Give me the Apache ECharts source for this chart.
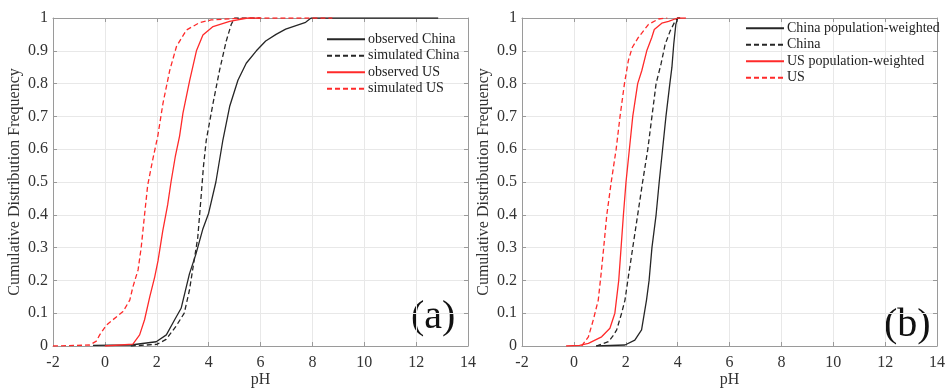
<!DOCTYPE html>
<html>
<head>
<meta charset="utf-8">
<script src="https://cdn.jsdelivr.net/npm/echarts@6/dist/echarts.min.js"></script>
<style>
  html, body { margin: 0; padding: 0; background: #fff; }
  #chart { width: 949px; height: 390px; }
</style>
</head>
<body>
<div id="chart"></div>
<script>
// panel (a): observed vs simulated
const obsChinaX = [-0.46, 1.0, 1.98, 2.37, 2.69, 2.94, 3.26, 3.51, 3.77, 4.0, 4.28, 4.55, 4.81, 5.13, 5.45, 5.84, 6.2, 6.6, 6.97, 7.74, 7.95, 12.85];
const obsChinaY = [0.002, 0.003, 0.013, 0.034, 0.08, 0.115, 0.22, 0.28, 0.355, 0.405, 0.5, 0.628, 0.73, 0.81, 0.862, 0.9, 0.93, 0.95, 0.966, 0.987, 1.0, 1.0];

const simChinaX = [1.0, 2.0, 2.36, 2.74, 3.06, 3.26, 3.38, 3.58, 3.7, 3.8, 3.91, 4.17, 4.42, 4.68, 4.87, 5.0, 6.0];
const simChinaY = [0.0, 0.005, 0.02, 0.06, 0.1, 0.17, 0.23, 0.33, 0.445, 0.547, 0.628, 0.74, 0.84, 0.93, 0.98, 1.0, 1.0];

const obsUSX = [0.0, 1.08, 1.34, 1.53, 1.73, 1.92, 2.05, 2.23, 2.42, 2.55, 2.72, 2.88, 3.01, 3.27, 3.53, 3.78, 4.17, 4.81, 5.5, 6.0];
const obsUSY = [0.0, 0.006, 0.034, 0.08, 0.15, 0.21, 0.26, 0.35, 0.43, 0.5, 0.58, 0.64, 0.71, 0.81, 0.9, 0.948, 0.974, 0.99, 1.0, 1.0];

const simUSX = [-2.0, -0.58, -0.33, -0.2, 0.06, 0.31, 0.7, 0.96, 1.08, 1.28, 1.4, 1.53, 1.65, 1.85, 2.04, 2.24, 2.5, 2.76, 3.14, 3.65, 4.1, 4.9, 5.5, 8.77];
const simUSY = [0.0, 0.003, 0.015, 0.034, 0.064, 0.08, 0.105, 0.14, 0.18, 0.232, 0.3, 0.4, 0.49, 0.57, 0.64, 0.74, 0.84, 0.913, 0.963, 0.986, 0.994, 0.998, 1.0, 1.0];

// panel (b): population-weighted vs plain
const popChinaX = [0.86, 1.97, 2.35, 2.61, 2.8, 2.9, 3.01, 3.17, 3.29, 3.42, 3.55, 3.7, 3.78, 3.85, 3.93, 4.0, 4.1];
const popChinaY = [0.0, 0.003, 0.018, 0.049, 0.14, 0.2, 0.3, 0.4, 0.5, 0.6, 0.7, 0.8, 0.85, 0.92, 0.98, 1.0, 1.0];

const chinaX = [0.86, 1.33, 1.5, 1.65, 1.84, 1.97, 2.08, 2.27, 2.46, 2.65, 2.85, 3.01, 3.17, 3.36, 3.52, 3.71, 3.9, 4.0, 4.1];
const chinaY = [0.0, 0.013, 0.03, 0.049, 0.1, 0.14, 0.2, 0.3, 0.4, 0.5, 0.6, 0.7, 0.8, 0.86, 0.92, 0.96, 0.99, 1.0, 1.0];

const popUSX = [-0.3, 0.22, 0.56, 1.07, 1.39, 1.58, 1.73, 1.82, 1.91, 2.01, 2.14, 2.27, 2.46, 2.62, 2.81, 3.0, 3.1, 3.39, 3.65, 4.0, 4.32];
const popUSY = [0.0, 0.002, 0.008, 0.028, 0.054, 0.1, 0.2, 0.3, 0.4, 0.5, 0.6, 0.7, 0.8, 0.84, 0.9, 0.94, 0.965, 0.984, 0.99, 1.0, 1.0];

const usX = [0.3, 0.56, 0.75, 0.94, 1.05, 1.15, 1.27, 1.44, 1.63, 1.78, 1.95, 2.1, 2.25, 2.48, 2.87, 3.26, 3.6];
const usY = [0.0, 0.028, 0.08, 0.14, 0.22, 0.3, 0.4, 0.5, 0.6, 0.7, 0.8, 0.87, 0.91, 0.94, 0.98, 0.997, 1.0];

const legendA = ['observed China', 'simulated China', 'observed US', 'simulated US'];
const legendB = ['China population-weighted', 'China', 'US population-weighted', 'US'];

const zip = (xs, ys) => xs.map((x, i) => [x, ys[i]]);

const FONT = '"Liberation Serif", "DejaVu Serif", serif';
const BLACK = '#262626';
const RED = '#ff2a2a';
const GRID_LINE = '#e8e8e8';
const AXIS_LINE = '#9a9a9a';

function xAxes(gi) {
  return [
    {
      type: 'value', gridIndex: gi, min: -2, max: 14, interval: 2,
      name: 'pH', nameLocation: 'middle', nameGap: 26, nameMoveOverlap: false,
      nameTextStyle: { fontFamily: FONT, fontSize: 16, color: '#333' },
      axisLine: { show: true, onZero: false, lineStyle: { color: AXIS_LINE } },
      axisTick: { show: true, inside: true, length: 4, lineStyle: { color: AXIS_LINE } },
      axisLabel: { fontFamily: FONT, fontSize: 16, color: '#333', margin: 9 },
      splitLine: { show: true, lineStyle: { color: GRID_LINE } }
    },
    {
      type: 'value', gridIndex: gi, min: -2, max: 14, interval: 2, position: 'top',
      axisLine: { show: true, onZero: false, lineStyle: { color: AXIS_LINE } },
      axisTick: { show: true, inside: true, length: 4, lineStyle: { color: AXIS_LINE } },
      axisLabel: { show: false },
      splitLine: { show: false }
    }
  ];
}

function yAxes(gi) {
  return [
    {
      type: 'value', gridIndex: gi, min: 0, max: 1, interval: 0.1,
      name: 'Cumulative Distribution Frequency', nameLocation: 'middle', nameGap: 30,
      nameTextStyle: { fontFamily: FONT, fontSize: 16, color: '#333' },
      axisLine: { show: true, onZero: false, lineStyle: { color: AXIS_LINE } },
      axisTick: { show: true, inside: true, length: 4, lineStyle: { color: AXIS_LINE } },
      axisLabel: { fontFamily: FONT, fontSize: 16, color: '#333', margin: 5 },
      splitLine: { show: true, lineStyle: { color: GRID_LINE } }
    },
    {
      type: 'value', gridIndex: gi, min: 0, max: 1, interval: 0.1, position: 'right',
      axisLine: { show: true, onZero: false, lineStyle: { color: AXIS_LINE } },
      axisTick: { show: true, inside: true, length: 4, lineStyle: { color: AXIS_LINE } },
      axisLabel: { show: false },
      splitLine: { show: false }
    }
  ];
}

function line(name, data, color, dashed, xi, yi) {
  return {
    name, type: 'line', data, xAxisIndex: xi, yAxisIndex: yi,
    symbol: 'none', smooth: false, animation: false,
    lineStyle: { color, width: 1.3, type: dashed ? [5, 3] : 'solid' },
    itemStyle: { color }
  };
}

const legendCommon = {
  orient: 'vertical', itemWidth: 38, itemHeight: 10, itemGap: 2,
  itemStyle: { opacity: 0 },
  textStyle: { fontFamily: FONT, fontSize: 14, color: '#222', lineHeight: 14.5, padding: [0, 0, 0, -2] }
};

const chart = echarts.init(document.getElementById('chart'));
chart.setOption({
  backgroundColor: '#fff',
  animation: false,
  grid: [
    { left: 53, top: 18, width: 415, height: 328, show: false, outerBoundsMode: 'none' },
    { left: 522, top: 18, width: 415, height: 328, show: false, outerBoundsMode: 'none' }
  ],
  xAxis: [...xAxes(0), ...xAxes(1)],
  yAxis: [...yAxes(0), ...yAxes(1)],
  legend: [
    Object.assign({}, legendCommon, { data: legendA, left: 321, top: 27 }),
    Object.assign({}, legendCommon, { data: legendB, left: 740, top: 16 })
  ],
  graphic: [
    { type: 'text', left: 411, top: 297, style: { text: '(a)', font: '40px ' + FONT, fill: '#111' } },
    { type: 'text', left: 884, top: 305, style: { text: '(b)', font: '40px ' + FONT, fill: '#111' } }
  ],
  series: [
    line('observed China', zip(obsChinaX, obsChinaY), BLACK, false, 0, 0),
    line('simulated China', zip(simChinaX, simChinaY), BLACK, true, 0, 0),
    line('observed US', zip(obsUSX, obsUSY), RED, false, 0, 0),
    line('simulated US', zip(simUSX, simUSY), RED, true, 0, 0),
    line('China population-weighted', zip(popChinaX, popChinaY), BLACK, false, 2, 2),
    line('China', zip(chinaX, chinaY), BLACK, true, 2, 2),
    line('US population-weighted', zip(popUSX, popUSY), RED, false, 2, 2),
    line('US', zip(usX, usY), RED, true, 2, 2)
  ]
});
</script>
</body>
</html>
